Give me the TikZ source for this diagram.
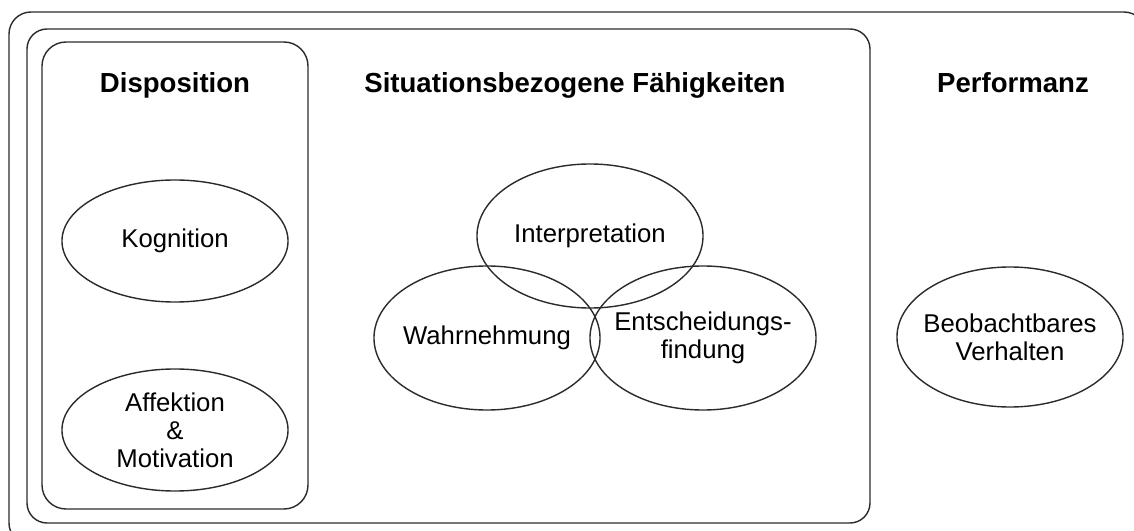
\documentclass[tikz,border=0pt]{standalone}
\usepackage{fontspec}
\setmainfont{Liberation Sans}
\usetikzlibrary{shapes.geometric}
\definecolor{ink}{HTML}{2B2B2B}
\tikzset{
  heading/.style={
    text=black,
    font=\bfseries\fontsize{19.6}{23}\selectfont,
    anchor=base
  },
  term/.style={
    text=black,
    font=\fontsize{18.3}{20}\selectfont,
    align=center
  },
  panel/.style={
    draw=ink,
    line width=1pt
  },
  bubble/.style={
    ellipse,
    draw=ink,
    line width=1pt,
    inner sep=-0.3cm,
    minimum width=5.65cm,
    minimum height=3.6cm
  }
}

\begin{document}
\begin{tikzpicture}[x=0.025cm,y=-0.025cm]
  \useasboundingbox (0,0) rectangle (1134,531);
  \clip (0,0) rectangle (1134,531);

  % Nested frames
  \draw[panel, rounded corners=0.55cm] (9,12) rectangle (1146,545);
  \draw[panel, rounded corners=0.5cm] (27,29) rectangle (870,523);
  \draw[panel, rounded corners=0.6cm] (42,42) rectangle (308,509);

  % Column headings
  \node[heading] (dispTitle) at (175,93) {Disposition};
  \node[heading] (sitTitle) at (575,93) {Situationsbezogene Fähigkeiten};
  \node[heading] (perfTitle) at (1013,93) {Performanz};

  % Disposition
  \node[bubble, term, minimum height=3.05cm] (kog) at (175,241) {Kognition};
  \node[bubble, term, minimum height=3.05cm] (aff) at (175,430) {Affektion\\\&\\Motivation};

  % Situation-specific skills
  \node[bubble, term] (interp) at (590,236) {Interpretation};
  \node[bubble, term] (wahr) at (487,338) {Wahrnehmung};
  \node[bubble, term] (ents) at (703,338) {Entscheidungs-\\findung};

  % Performance
  \node[bubble, term, minimum height=3.5cm] (beob) at (1010,337) {Beobachtbares\\Verhalten};
\end{tikzpicture}
\end{document}
